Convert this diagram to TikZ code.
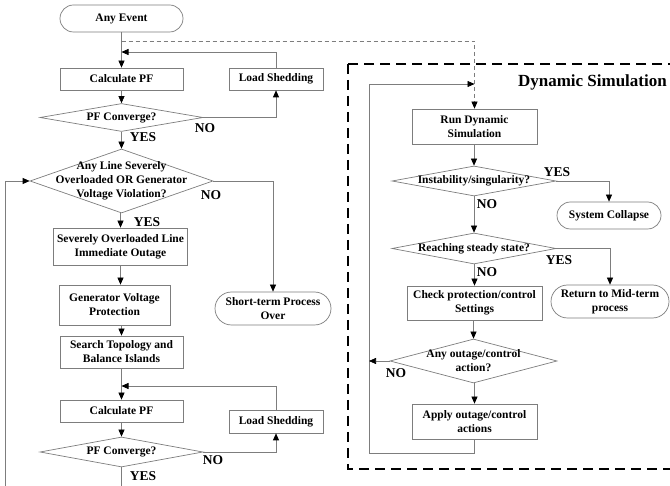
\documentclass[tikz,border=0pt]{standalone}
\usepackage{fontspec}
\setmainfont{Liberation Serif}
\usepackage{tikz}
\usetikzlibrary{arrows.meta,shapes.geometric,shapes.misc}
\definecolor{linegray}{RGB}{125,125,125}
\tikzstyle{box}=[rectangle,draw=linegray,line width=0.7pt,inner sep=0pt,align=center,font=\bfseries\fontsize{11.5}{14}\selectfont]
\tikzstyle{term}=[rounded rectangle,draw=linegray,line width=0.7pt,inner sep=0pt,align=center,font=\bfseries\fontsize{11.5}{14}\selectfont]
\tikzstyle{dec}=[diamond,draw=linegray,line width=0.7pt,inner sep=0pt]
\tikzstyle{dtext}=[align=center,inner sep=0pt,font=\bfseries\fontsize{11.5}{14}\selectfont]
\tikzstyle{yn}=[inner sep=0pt,font=\bfseries\fontsize{13.5}{14}\selectfont]
\tikzstyle{flow}=[draw=linegray,line width=0.7pt,-{Triangle[color=black,length=7pt,width=6pt]}]
\tikzstyle{line}=[draw=linegray,line width=0.7pt]

\begin{document}
\begin{tikzpicture}[x=1pt,y=-1pt]
    \useasboundingbox (0,0) rectangle (670,486);
    % Dynamic simulation frame
    \draw[line width=1.8pt,dash pattern=on 10pt off 6pt] (348,64) rectangle (700,469);
    \node[anchor=east,inner sep=0pt,font=\bfseries\fontsize{17}{20}\selectfont] (dyn) at (667,82) {Dynamic Simulation};

    % Process boxes
    \foreach \pos/\w/\h/\name/\txt in {{(121.5,79)/123pt/22pt/calc1/Calculate PF},
        {(276,79)/94pt/22pt/shed1/Load Shedding},
        {(120.5,246.5)/134pt/37pt/sev/{Severely Overloaded Line\\Immediate Outage}},
        {(114.5,305)/111pt/40pt/gen/{Generator Voltage\\Protection}},
        {(121.5,352)/123pt/32pt/topo/{Search Topology and\\Balance Islands}},
        {(121.5,411)/123pt/22pt/calc2/Calculate PF},
        {(276,421.5)/94pt/23pt/shed2/Load Shedding},
        {(474.5,126.5)/125pt/35pt/run/{Run Dynamic\\Simulation}},
        {(474.5,303)/135pt/34pt/check/{Check protection/control\\Settings}},
        {(474.5,421.5)/125pt/35pt/apply/{Apply outage/control\\actions}}}
        \node[box,minimum width=\w,minimum height=\h] (\name) at \pos {\txt};

    % Terminals
    \foreach \pos/\w/\h/\name/\txt in {{(121.5,18.5)/123pt/27pt/event/Any Event},
        {(273,308.5)/116pt/33pt/short/{Short-term Process\\Over}},
        {(609,215.5)/104pt/27pt/collapse/System Collapse},
        {(610,301.5)/118pt/33pt/ret/{Return to Mid-term\\process}}}
        \node[term,minimum width=\w,minimum height=\h] (\name) at \pos {\txt};

    % Decisions
    \foreach \pos/\w/\h/\name/\txt in {{(121.5,117.5)/163pt/28pt/conv1/PF Converge?},
        {(121.5,181)/183pt/64pt/viol/{Any Line Severely\\Overloaded OR Generator\\Voltage Violation?}},
        {(121.5,452)/163pt/30pt/conv2/PF Converge?},
        {(474,181)/164pt/30pt/inst/{Instability/singularity?}},
        {(474,248.5)/164pt/31pt/steady/Reaching steady state?},
        {(473.5,361)/167pt/44pt/outage/{Any outage/control\\action?}}}
        \node[dec,minimum width=\w,minimum height=\h,label={[dtext]center:\txt}] (\name) at \pos {};

    % YES / NO labels
    \foreach \pos/\name/\txt in {{(205,128)/n1/NO}, {(143,137)/y1/YES}, {(211,195)/n2/NO}, {(147,222)/y2/YES},
        {(213,460)/n3/NO}, {(143,476)/y3/YES}, {(557,172)/y4/YES}, {(487,204)/n4/NO},
        {(559,260)/y5/YES}, {(487,272)/n5/NO}, {(396,373)/n6/NO}}
        \node[yn] (\name) at \pos {\txt};

    % Joints
    \coordinate (j0) at (121.5,41);
    \coordinate (j1) at (121.5,52);
    \coordinate (j2) at (121.5,386);
    \coordinate (b0) at (5,486);
    \coordinate (b1) at (121.5,486);
    \coordinate (j3) at (474.5,84);
    \coordinate (c0) at (369,453);

    % Main flow
    \foreach \source/\dest in {event/calc1, calc1/conv1, conv1/viol, viol/sev, gen/topo, topo/calc2, calc2/conv2,
        run/inst, inst/steady, steady/check, check/outage, outage/apply}
        \path[flow] (\dest.north |- \source.south) -- (\dest.north);
    \path[flow] (sev.south) -- (sev.south |- gen.north);

    % Branches
    \path[flow] (conv1.east) -| (shed1.south);
    \path[flow] (shed1.north) |- (j1);
    \path[flow] (viol.east) -| (short.north);
    \path[flow] (conv2.east) -| (shed2.south);
    \path[flow] (shed2.north) |- (j2);
    \path[line] (conv2.south) -- (b1);
    \path[flow] (b0) |- (viol.west);
    \path[flow,dash pattern=on 4pt off 3pt] (j0) -| (run.north);
    \path[flow] (inst.east) -| (collapse.north);
    \path[flow] (steady.east) -| (ret.north);
    \path[flow] (apply.south) |- (c0) |- (j3);
    \path[flow] (outage.west) -- (outage.west -| c0);
\end{tikzpicture}
\end{document}
